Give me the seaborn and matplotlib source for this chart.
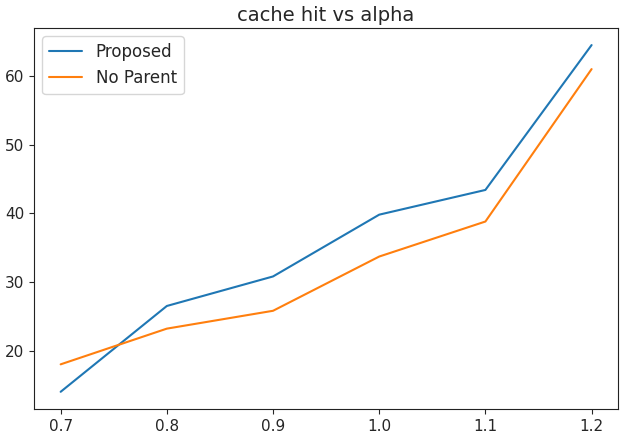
import matplotlib
matplotlib.use('Agg')
import matplotlib.pyplot as plt
import seaborn as sns
import pandas as pd

# data
alpha = [0.7, 0.8, 0.9, 1.0, 1.1, 1.2]
proposed = [14.0, 26.5, 30.8, 39.8, 43.4, 64.5]
no_parent = [18.0, 23.2, 25.8, 33.7, 38.8, 61.0]

data = pd.DataFrame({
    'alpha': alpha * 2,
    'hit': proposed + no_parent,
    'method': ['Proposed'] * len(alpha) + ['No Parent'] * len(alpha),
})

sns.set_style('ticks')
plt.rcParams['font.family'] = ['DejaVu Sans']

fig = plt.figure(figsize=(6.2, 4.36), dpi=100)
ax = fig.add_axes([0.055, 0.062, 0.942, 0.874])

sns.lineplot(x='alpha', y='hit', hue='method', data=data, ax=ax,
             palette=['#1f77b4', '#ff7f0e'], linewidth=1.5)

ax.set_xticks(alpha)
ax.set_xticklabels(['0.7', '0.8', '0.9', '1.0', '1.1', '1.2'])
ax.set_yticks([20, 30, 40, 50, 60])
ax.set_xlim(0.675, 1.225)
ax.set_ylim(11.5, 67.0)
ax.set_xlabel('')
ax.set_ylabel('')
ax.set_title('cache hit vs alpha', fontsize=14, pad=5)
ax.tick_params(labelsize=11)
for s in ax.spines.values():
    s.set_visible(True)
    s.set_color('#222222')

ax.legend(title=None, loc='upper left', fontsize=12)

fig.savefig('out.png', dpi=100)
